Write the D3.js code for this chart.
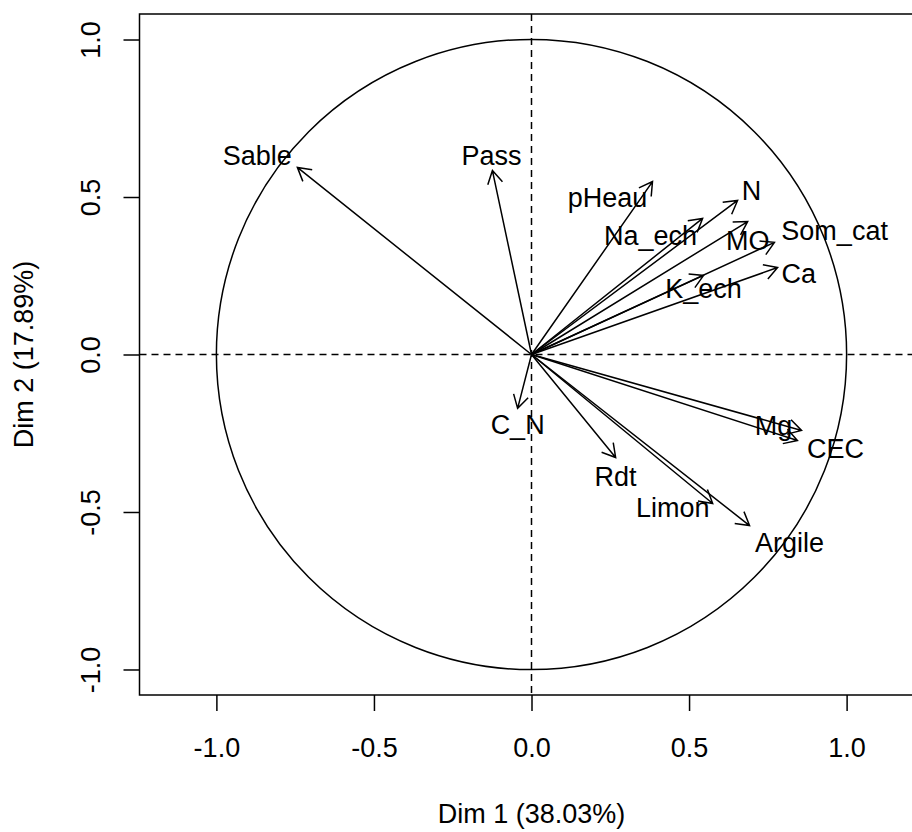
<!DOCTYPE html>
<html>
<head>
<meta charset="utf-8">
<script src="https://cdn.jsdelivr.net/npm/d3@7"></script>
<style>
  body { margin: 0; background: #fff; }
  text { font-family: "Liberation Sans", Arial, Helvetica, sans-serif; }
</style>
</head>
<body>
<div id="my_dataviz"></div>
<script>
// variables of the correlation circle (Dim 1 / Dim 2 coordinates)
const vars = ["Sable", "Pass", "pHeau", "Na_ech", "N", "MO", "Som_cat", "Ca",
  "K_ech", "Mg", "CEC", "Rdt", "Limon", "Argile", "C_N"]
const dim1 = [-0.743, -0.124, 0.384, 0.543, 0.654, 0.686, 0.771, 0.781,
  0.546, 0.857, 0.844, 0.267, 0.575, 0.692, -0.044]
const dim2 = [0.594, 0.584, 0.549, 0.432, 0.489, 0.422, 0.356, 0.276,
  0.251, -0.241, -0.273, -0.327, -0.473, -0.543, -0.171]

// where the labels sit (same units as the coordinates)
const labX = [-0.870, -0.127, 0.241, 0.378, 0.698, 0.686, 0.962, 0.848,
  0.546, 0.768, 0.965, 0.267, 0.448, 0.819, -0.044]
const labY = [0.632, 0.632, 0.498, 0.378, 0.521, 0.362, 0.394, 0.257,
  0.210, -0.225, -0.298, -0.387, -0.486, -0.597, -0.222]

const ticks = [-1, -0.5, 0, 0.5, 1]
const xTitle = "Dim 1 (38.03%)"
const yTitle = "Dim 2 (17.89%)"

// dimensions
const margin = {top: 14, left: 139.5},
    width = 784,
    height = 681;

const svg = d3.select("#my_dataviz")
  .append("svg")
    .attr("width", 912)
    .attr("height", 832)
  .append("g")
    .attr("transform", `translate(${margin.left},${margin.top})`);

const x = d3.scaleLinear().domain([-1.244, 1.244]).range([0, width]);
const y = d3.scaleLinear().domain([-1.081, 1.081]).range([height, 0]);

const fs = "27px"
const lw = 1.5

// box
svg.append("rect")
  .attr("x", 0).attr("y", 0)
  .attr("width", width).attr("height", height)
  .attr("fill", "none").attr("stroke", "black").attr("stroke-width", lw)

// X axis
const gx = svg.append("g")
  .attr("transform", `translate(0,${height})`)
  .call(d3.axisBottom(x).tickValues(ticks).tickSize(16).tickFormat(d => d.toFixed(1)))
gx.select(".domain").remove()
gx.selectAll("line").attr("stroke-width", lw)
gx.selectAll("text")
  .attr("y", 43).attr("dy", "0.71em")
  .style("font-size", fs).attr("fill", "black")
  .style("font-family", "'Liberation Sans', Arial, sans-serif")

// Y axis
const gy = svg.append("g")
  .call(d3.axisLeft(y).tickValues(ticks).tickSize(16).tickFormat(d => d.toFixed(1)))
gy.select(".domain").remove()
gy.selectAll("line").attr("stroke-width", lw)
gy.selectAll("text")
  .attr("transform", "rotate(-90)")
  .attr("x", 0).attr("y", -39.5).attr("dy", 0)
  .attr("text-anchor", "middle")
  .style("font-size", fs).attr("fill", "black")
  .style("font-family", "'Liberation Sans', Arial, sans-serif")

// axis titles
svg.append("text")
  .attr("x", x(0)).attr("y", 809)
  .attr("text-anchor", "middle")
  .style("font-size", fs)
  .text(xTitle)
svg.append("text")
  .attr("transform", `translate(${32.5 - margin.left},${y(0)}) rotate(-90)`)
  .attr("text-anchor", "middle")
  .style("font-size", fs)
  .text(yTitle)

// dashed zero lines
svg.append("line")
  .attr("x1", 0).attr("x2", width).attr("y1", y(0)).attr("y2", y(0))
  .attr("stroke", "black").attr("stroke-width", lw).attr("stroke-dasharray", "7,5")
svg.append("line")
  .attr("x1", x(0)).attr("x2", x(0)).attr("y1", 0).attr("y2", height)
  .attr("stroke", "black").attr("stroke-width", lw).attr("stroke-dasharray", "7,5")

// unit circle
svg.append("circle")
  .attr("cx", x(0)).attr("cy", y(0))
  .attr("r", x(1) - x(0))
  .attr("fill", "none").attr("stroke", "black").attr("stroke-width", lw)

// arrows
const data = vars.map((v, i) => ({name: v, d1: dim1[i], d2: dim2[i], lx: labX[i], ly: labY[i]}))
const headLen = 15, headAng = Math.PI / 6

const arrows = svg.append("g").attr("id", "arrows")
data.forEach(d => {
  const x0 = x(0), y0 = y(0), x1 = x(d.d1), y1 = y(d.d2)
  const a = Math.atan2(y1 - y0, x1 - x0)
  const p = d3.path()
  p.moveTo(x0, y0); p.lineTo(x1, y1)
  p.moveTo(x1 - headLen * Math.cos(a - headAng), y1 - headLen * Math.sin(a - headAng))
  p.lineTo(x1, y1)
  p.lineTo(x1 - headLen * Math.cos(a + headAng), y1 - headLen * Math.sin(a + headAng))
  arrows.append("path")
    .attr("d", p.toString())
    .attr("fill", "none").attr("stroke", "black").attr("stroke-width", lw)
})

// labels
svg.append("g").attr("id", "labels")
  .selectAll("text")
  .data(data)
  .join("text")
    .attr("x", d => x(d.lx))
    .attr("y", d => y(d.ly))
    .attr("dy", "0.36em")
    .attr("text-anchor", "middle")
    .style("font-size", fs)
    .text(d => d.name)
</script>
</body>
</html>
